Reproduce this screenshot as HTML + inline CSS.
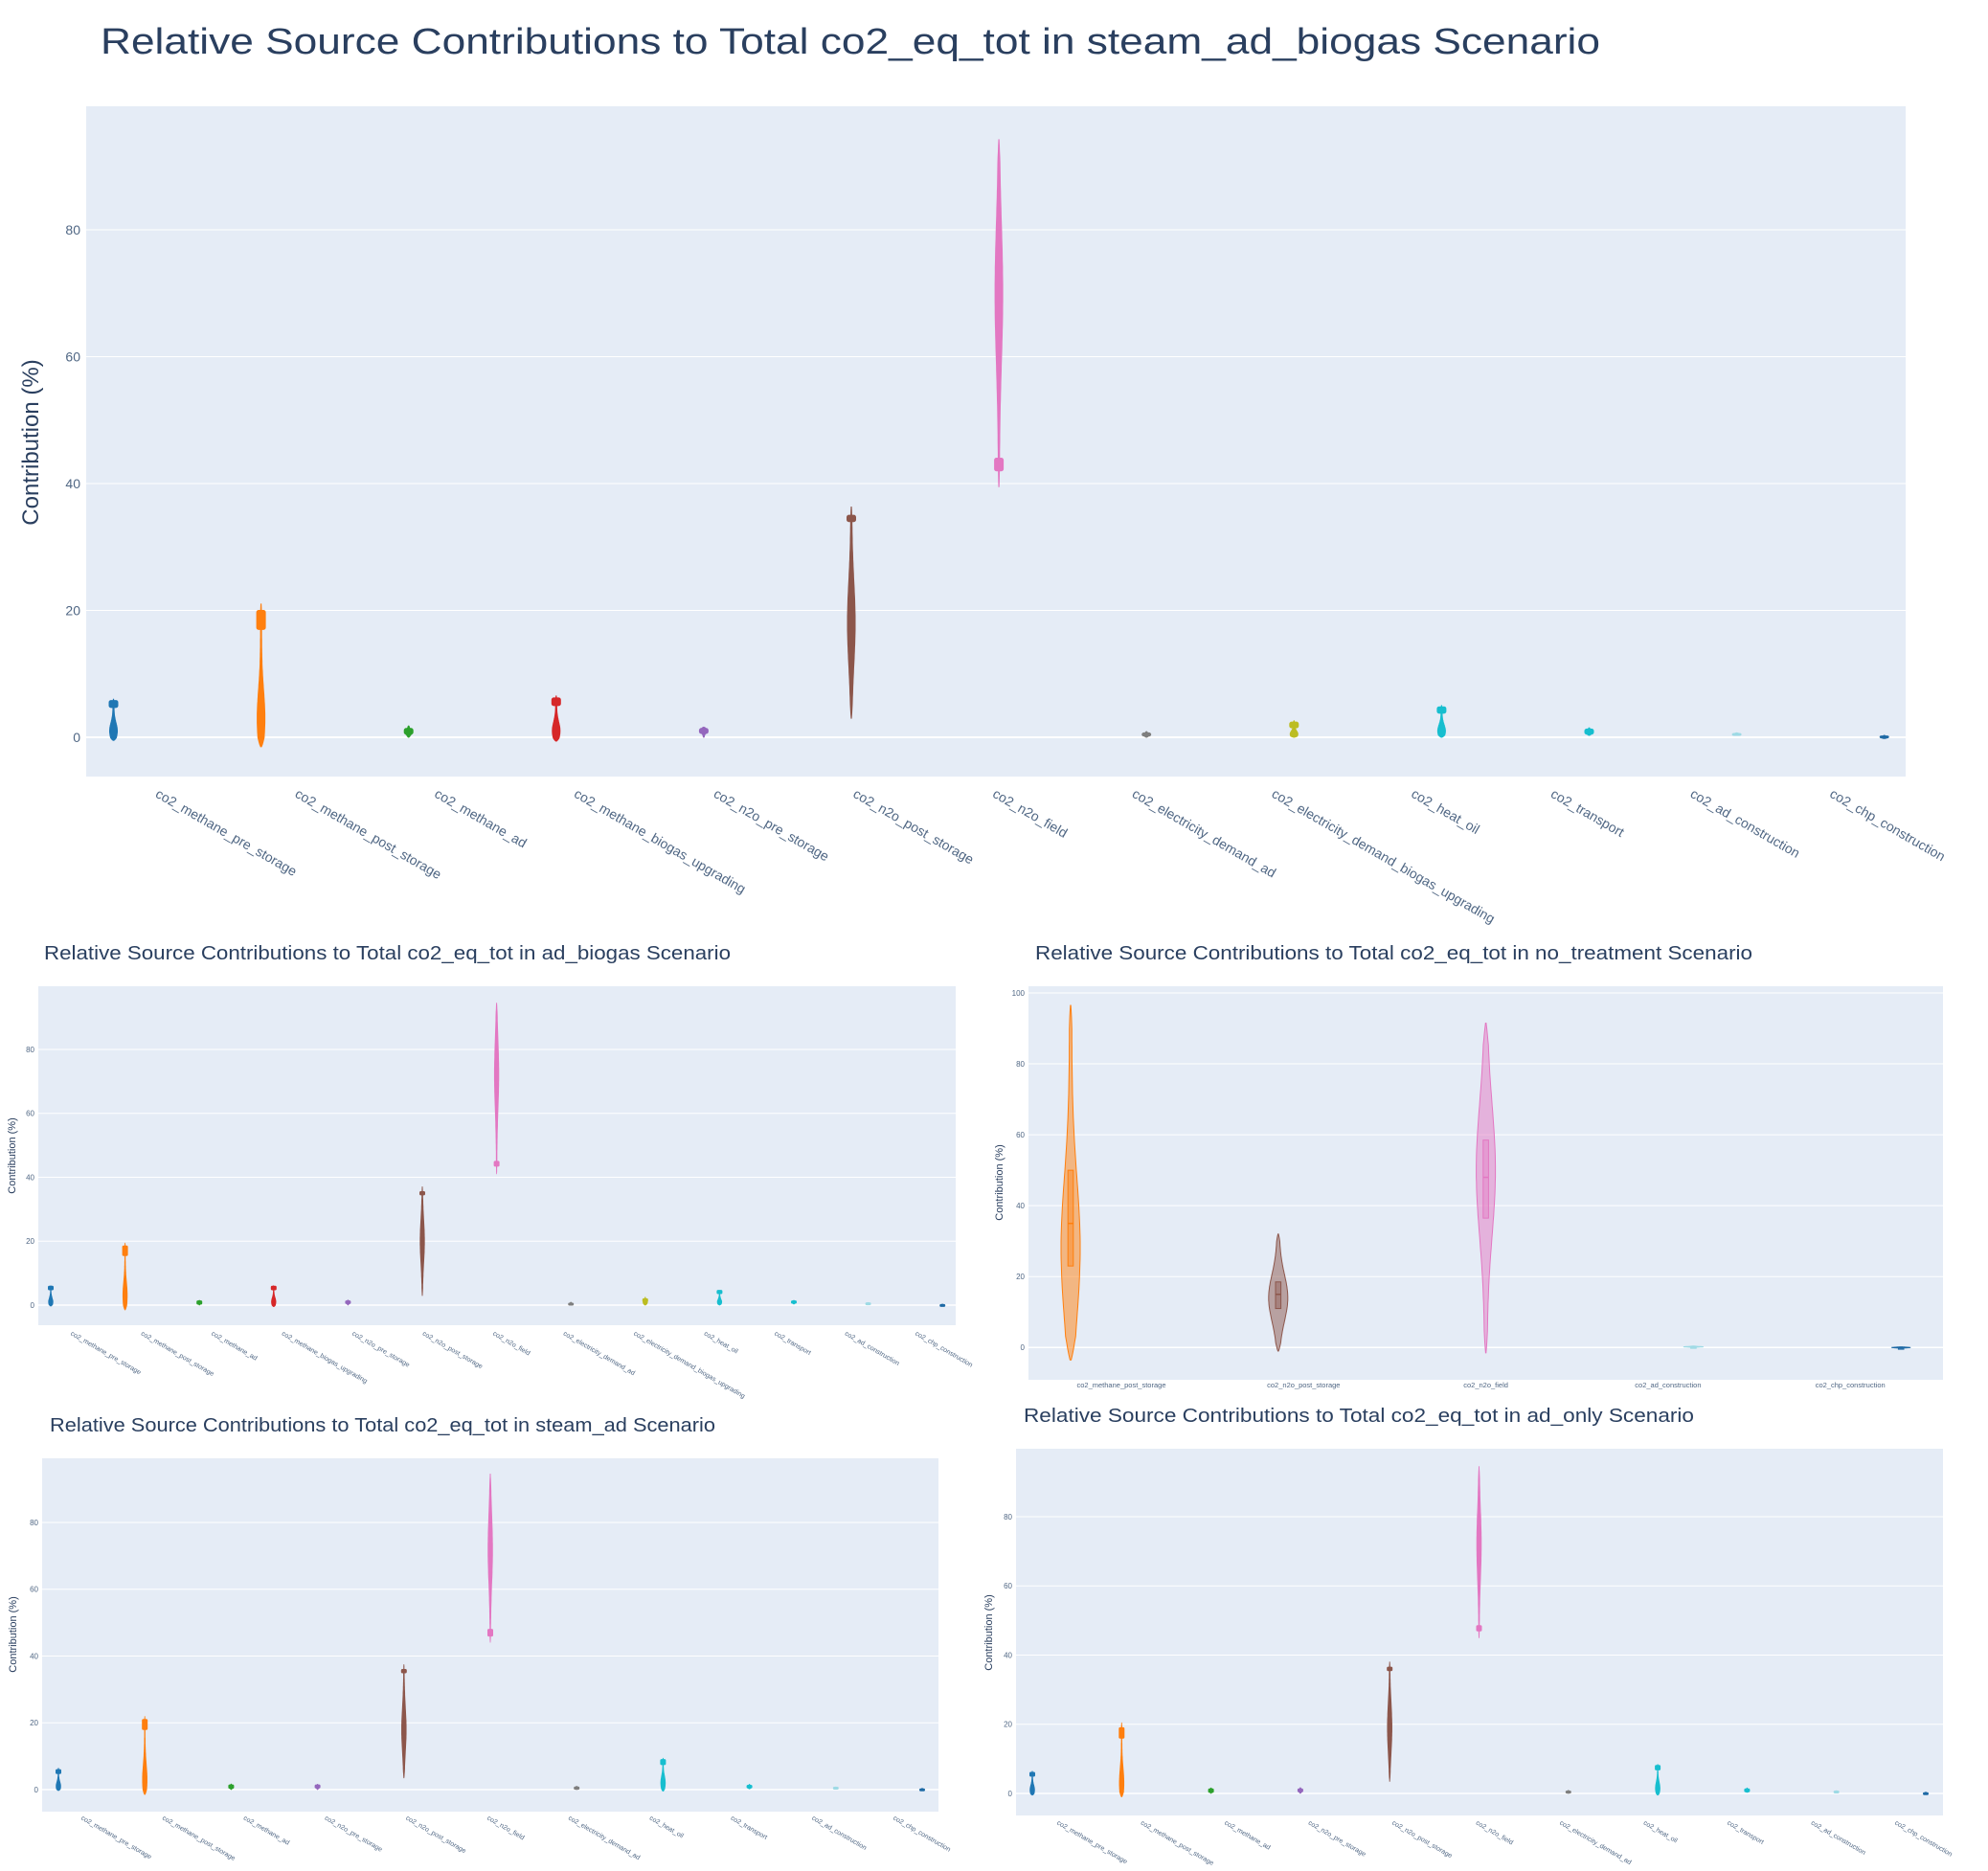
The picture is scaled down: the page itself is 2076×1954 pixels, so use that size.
<!DOCTYPE html>
<html><head><meta charset="utf-8"><style>
html,body{margin:0;padding:0;background:#fff;}
svg{display:block;font-family:"Liberation Sans","DejaVu Sans",sans-serif;}
</style></head><body>
<svg id="fig" width="2076" height="1954" xmlns="http://www.w3.org/2000/svg"></svg>
<script>
// ---------- DATA ----------
const cats13 = ["co2_methane_pre_storage","co2_methane_post_storage","co2_methane_ad","co2_methane_biogas_upgrading","co2_n2o_pre_storage","co2_n2o_post_storage","co2_n2o_field","co2_electricity_demand_ad","co2_electricity_demand_biogas_upgrading","co2_heat_oil","co2_transport","co2_ad_construction","co2_chp_construction"];
const cats11 = ["co2_methane_pre_storage","co2_methane_post_storage","co2_methane_ad","co2_n2o_pre_storage","co2_n2o_post_storage","co2_n2o_field","co2_electricity_demand_ad","co2_heat_oil","co2_transport","co2_ad_construction","co2_chp_construction"];
const cats5 = ["co2_methane_post_storage","co2_n2o_post_storage","co2_n2o_field","co2_ad_construction","co2_chp_construction"];
const ticks80 = [0,20,40,60,80];
const ticks100 = [0,20,40,60,80,100];

// steam_ad_biogas (main)
const mainMins  = [-0.5,-1.5,0,-0.6,0,3,39.5,0,0,0,0.3,0.3,-0.2];
const mainMaxs  = [6,21,1.8,6.5,1.6,36.3,94.2,0.9,2.6,5,1.5,0.7,0.3];
const mainPeaks = [1,3,0.8,1,1,18,70,0.4,0.5,1,0.8,0.5,0];
const mainQ1s   = [4.7,17,0.5,5,0.6,34,42,0.2,1.5,3.8,0.5,0.4,-0.1];
const mainQ3s   = [5.8,20,1.4,6.2,1.4,35,44,0.7,2.4,4.8,1.3,0.6,0.2];
// ad_biogas
const adbMins  = [-0.3,-1.5,0,-0.5,0,3,41,0,0,0,0.3,0.3,-0.3];
const adbMaxs  = [6,19.5,1.5,6,1.6,37,94.5,0.9,2.5,4.5,1.5,0.8,0.3];
const adbPeaks = [1,3,0.8,1,0.8,20,72,0.4,0.8,1,0.9,0.5,0];
const adbQ1s   = [4.8,15.5,0.3,4.8,0.5,34.5,43.5,0.1,1,3.6,0.6,0.3,-0.2];
const adbQ3s   = [5.9,18.5,1.3,5.9,1.3,35.5,45,0.6,2,4.6,1.3,0.7,0.2];
// no_treatment
const ntMins  = [-3.5,-1,-1.5,0,-0.2];
const ntMaxs  = [96.5,32,91.5,0.4,0.2];
const ntPeaks = [28,14,50,0.2,0];
const ntQ1s   = [23,11,36.5,0.1,-0.05];
const ntQ3s   = [50,18.5,58.5,0.3,0.05];
const ntMeds  = [35,15,48,0.2,0];
// steam_ad
const saMins  = [-0.3,-1.5,0,0,3.5,44,0,-0.5,0.2,0.3,-0.2];
const saMaxs  = [6.5,22,1.7,1.6,37.5,94.5,1,9.5,1.6,0.8,0.4];
const saPeaks = [1,3,0.8,0.8,18,72,0.5,2,0.8,0.5,0];
const saQ1s   = [4.8,18,0.4,0.5,35,46,0.1,7.5,0.5,0.3,-0.1];
const saQ3s   = [6,21,1.4,1.4,36,48,0.8,9,1.3,0.7,0.2];
// ad_only
const aoMins  = [-0.5,-1,0,0,3.5,45,0,-0.5,0.3,0.3,-0.2];
const aoMaxs  = [6.5,20.5,1.6,1.7,38,94.5,0.9,8.5,1.6,0.8,0.4];
const aoPeaks = [1,3,0.8,0.8,19,72,0.4,1.5,0.8,0.5,0];
const aoQ1s   = [5,16,0.3,0.5,35.5,47,0.1,6.8,0.5,0.3,-0.1];
const aoQ3s   = [6.1,19,1.3,1.3,36.5,48.5,0.7,8.1,1.3,0.7,0.2];

const catColors = {
 "co2_methane_pre_storage":"#1f77b4","co2_methane_post_storage":"#ff7f0e","co2_methane_ad":"#2ca02c",
 "co2_methane_biogas_upgrading":"#d62728","co2_n2o_pre_storage":"#9467bd","co2_n2o_post_storage":"#8c564b",
 "co2_n2o_field":"#e377c2","co2_electricity_demand_ad":"#7f7f7f","co2_electricity_demand_biogas_upgrading":"#bcbd22",
 "co2_heat_oil":"#17becf","co2_transport":"#17becf","co2_ad_construction":"#9edae5","co2_chp_construction":"#1f6aa5"};

// ---------- DRAW ----------
const NS="http://www.w3.org/2000/svg";
const svg=document.getElementById('fig');
function mk(tag,attrs,parent){const e=document.createElementNS(NS,tag);for(const k in attrs)e.setAttribute(k,attrs[k]);(parent||svg).appendChild(e);return e;}

function chart(cfg, cats, mins, maxs, peaks, q1s, q3s, meds){
  const g=mk('g',{});
  
  
  const y=v=>cfg.y0 - v*cfg.ppu;
  const xv=i=>cfg.vx0 + i*cfg.vstep;
  const bg=mk('rect',{x:cfg.left,y:cfg.top,width:cfg.right-cfg.left,height:cfg.bottom-cfg.top,fill:'#E5ECF6'},g);
  
  
  cfg.ticks.forEach(t=>{
    const gl=mk('line',{x1:cfg.left,x2:cfg.right,y1:y(t),y2:y(t),stroke:'#fff','stroke-width':t===0?cfg.zw:1},g);
    
    
    const tl=mk('text',{x:cfg.left-cfg.tickGap,y:y(t)+cfg.tickFs*0.35,'text-anchor':'end','font-size':cfg.tickFs,fill:'#506784'},g);
    tl.textContent=t;
    
    
  });
  cats.forEach((c,i)=>{
    const col=catColors[c], cx=xv(i);
    const lo=mins[i], hi=maxs[i], pk=peaks[i], sd=Math.max((hi-lo)/5,0.05);
    const N=60, L=[], R=[];
    for(let k=0;k<=N;k++){
      const v=lo+(hi-lo)*k/N;
      let w=cfg.W*(0.12+0.88*Math.exp(-0.5*((v-pk)/sd)**2));
      const edge=Math.min(1,k/4,(N-k)/4)**0.5;
      w*=Math.max(edge,0.15);
      R.push([cx+w,y(v)]);L.unshift([cx-w,y(v)]);
    }
    const pts=R.concat(L).map(p=>p[0].toFixed(1)+','+p[1].toFixed(1)).join(' ');
    const vi=mk('polygon',{points:pts,fill:col,'fill-opacity':cfg.fo,stroke:col,'stroke-width':cfg.sw},g);
    
    
    const bx=mk('rect',{x:cx-cfg.bw,y:y(q3s[i]),width:2*cfg.bw,height:Math.max(y(q1s[i])-y(q3s[i]),2),fill:col,'fill-opacity':cfg.bfo,stroke:col,'stroke-width':1,rx:cfg.brx},g);
    
    
    if(meds){
      const md=mk('line',{x1:cx-cfg.bw,x2:cx+cfg.bw,y1:y(meds[i]),y2:y(meds[i]),stroke:col,'stroke-width':1.5},g);
      
      
    }
    let lx, ly, t;
    if(cfg.rot){
      lx=cfg.lx0+i*cfg.lstep; ly=cfg.ly;
      t=mk('text',{x:lx,y:ly+cfg.lfs*0.8,'font-size':cfg.lfs,fill:'#506784',transform:`rotate(30 ${lx} ${ly})`},g);
    } else {
      lx=cfg.lx0+i*cfg.lstep; ly=cfg.ly;
      t=mk('text',{x:lx,y:ly,'font-size':cfg.lfs,fill:'#506784','text-anchor':'middle'},g);
    }
    t.textContent=c;
    
    
  });
  const ti=mk('text',{x:cfg.tx,y:cfg.ty,'font-size':cfg.tfs,fill:'#2a3f5f',textLength:cfg.tlen,lengthAdjust:'spacingAndGlyphs'},g);
  ti.textContent=cfg.title;
  
  
  const yt=mk('text',{x:cfg.ytx,y:cfg.yty,'font-size':cfg.ytfs,fill:'#2a3f5f','text-anchor':'middle',transform:`rotate(-90 ${cfg.ytx} ${cfg.yty})`},g);
  yt.textContent='Contribution (%)';
  
  
}

chart({name:'main-chart-steam-ad-biogas',left:90,right:1990,top:111,bottom:811,y0:770,ppu:6.625,ticks:ticks80,zw:2,tickFs:14,tickGap:6,
  vx0:118.5,vstep:154.1,W:4,bw:4.5,brx:2,fo:1,bfo:1,sw:1,rot:true,lx0:167,lstep:145.7,ly:822,lfs:14,
  title:'Relative Source Contributions to Total co2_eq_tot in steam_ad_biogas Scenario',tx:105,ty:56,tfs:38,tlen:1566,
  ytx:40,yty:462,ytfs:24}, cats13, mainMins, mainMaxs, mainPeaks, mainQ1s, mainQ3s, null);

chart({name:'chart-ad-biogas',left:40,right:998,top:1030,bottom:1384,y0:1363,ppu:3.3375,ticks:ticks80,zw:1.5,tickFs:8,tickGap:4,
  vx0:53,vstep:77.6,W:2.3,bw:2.5,brx:1,fo:1,bfo:1,sw:0.7,rot:true,lx0:76,lstep:73.5,ly:1389,lfs:7,
  title:'Relative Source Contributions to Total co2_eq_tot in ad_biogas Scenario',tx:46,ty:1002,tfs:20,tlen:717,
  ytx:16,yty:1207,ytfs:11}, cats13, adbMins, adbMaxs, adbPeaks, adbQ1s, adbQ3s, null);

chart({name:'chart-no-treatment',left:1074,right:2029,top:1030,bottom:1441,y0:1407.3,ppu:3.703,ticks:ticks100,zw:1.5,tickFs:8,tickGap:4,
  vx0:1118,vstep:216.8,W:10,bw:2.8,brx:0,fo:0.5,bfo:0.4,sw:1,rot:false,lx0:1171,lstep:190.3,ly:1449,lfs:7.5,
  title:'Relative Source Contributions to Total co2_eq_tot in no_treatment Scenario',tx:1081,ty:1002,tfs:20,tlen:749,
  ytx:1047,yty:1235,ytfs:11}, cats5, ntMins, ntMaxs, ntPeaks, ntQ1s, ntQ3s, ntMeds);

chart({name:'chart-steam-ad',left:44,right:980,top:1523,bottom:1892,y0:1869,ppu:3.4875,ticks:ticks80,zw:1.5,tickFs:8,tickGap:4,
  vx0:61,vstep:90.2,W:2.4,bw:2.5,brx:1,fo:1,bfo:1,sw:0.7,rot:true,lx0:87,lstep:84.8,ly:1895,lfs:7,
  title:'Relative Source Contributions to Total co2_eq_tot in steam_ad Scenario',tx:52,ty:1495,tfs:20,tlen:695,
  ytx:17,yty:1707,ytfs:11}, cats11, saMins, saMaxs, saPeaks, saQ1s, saQ3s, null);

chart({name:'chart-ad-only',left:1061,right:2029,top:1513,bottom:1896,y0:1873,ppu:3.6125,ticks:ticks80,zw:1.5,tickFs:8,tickGap:4,
  vx0:1078,vstep:93.3,W:2.4,bw:2.5,brx:1,fo:1,bfo:1,sw:0.7,rot:true,lx0:1106,lstep:87.5,ly:1900,lfs:7,
  title:'Relative Source Contributions to Total co2_eq_tot in ad_only Scenario',tx:1069,ty:1485,tfs:20,tlen:700,
  ytx:1036,yty:1705,ytfs:11}, cats11, aoMins, aoMaxs, aoPeaks, aoQ1s, aoQ3s, null);
</script>
</body></html>
